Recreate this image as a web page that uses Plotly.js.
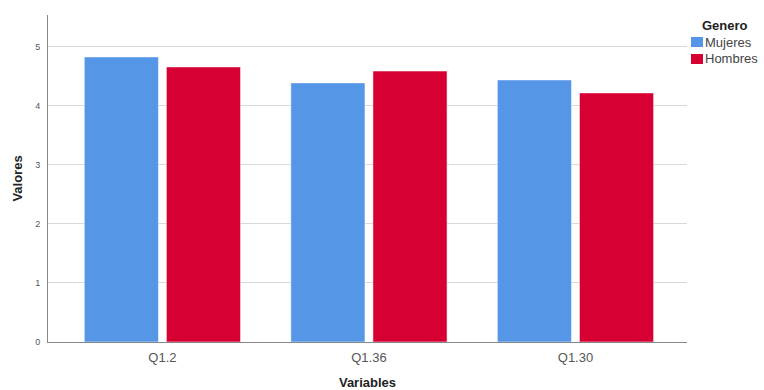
<!DOCTYPE html>
<html><head><meta charset="utf-8">
<script src="https://cdn.plot.ly/plotly-3.0.1.min.js"></script>
<style>body{margin:0;padding:0;background:#fff}</style>
</head><body>
<div id="chart" style="width:764px;height:390px"></div>
<script>
const categories = ["Q1.2", "Q1.36", "Q1.30"];
const mujeres = [4.83, 4.39, 4.44];
const hombres = [4.66, 4.59, 4.22];
const seriesNames = ["Mujeres", "Hombres"];
const seriesColors = ["#5596e6", "#d60032"];
const legendTitle = "Genero";
const yTicks = [0, 1, 2, 3, 4, 5];

const FONT = "Liberation Sans, Arial, sans-serif";
const data = [
  {type: "bar", name: seriesNames[0], x: categories, y: mujeres,
   marker: {color: seriesColors[0], line: {color: "#ffffff", width: 0.5}}},
  {type: "bar", name: seriesNames[1], x: categories, y: hombres,
   marker: {color: seriesColors[1], line: {color: "#ffffff", width: 0.5}}}
];

// manual legend (swatches + labels) placed at the right of the plot
const legX0 = 1.00626, legX1 = 1.02504;
const legRows = [[0.9327, 0.9021], [0.8807, 0.8502]];
const shapes = seriesNames.map((n, i) => ({
  type: "rect", xref: "paper", yref: "paper",
  x0: legX0, x1: legX1, y0: legRows[i][1], y1: legRows[i][0],
  fillcolor: seriesColors[i], line: {width: 0}
}));
const annotations = [
  {xref: "paper", yref: "paper", x: 1.0595, y: 0.9694, xanchor: "center", yanchor: "middle",
   text: "<b>" + legendTitle + "</b>", showarrow: false, font: {size: 13, color: "#222"}}
].concat(seriesNames.map((n, i) => ({
  xref: "paper", yref: "paper", x: 1.0250, y: (legRows[i][0] + legRows[i][1]) / 2,
  xanchor: "left", yanchor: "middle", text: n, showarrow: false,
  font: {size: 13, color: "#444"}
})));

const layout = {
  width: 764, height: 390,
  margin: {l: 48, r: 77, t: 15, b: 48},
  paper_bgcolor: "#ffffff", plot_bgcolor: "#ffffff",
  barmode: "group", bargap: 0.205, bargroupgap: 0.097,
  font: {family: FONT, color: "#444"},
  showlegend: false,
  xaxis: {
    type: "category", range: [-0.554, 2.54],
    showline: true, linecolor: "#888", linewidth: 1,
    ticks: "", tickfont: {size: 13, color: "#555"}, ticklabelstandoff: 3,
    title: {text: "<b>Variables</b>", font: {size: 13, color: "#222"}, standoff: 16}
  },
  yaxis: {
    range: [0, 5.54], tickvals: yTicks, ticktext: yTicks.map(String),
    showline: true, linecolor: "#888", linewidth: 1,
    showgrid: true, gridcolor: "#d9d9d9", gridwidth: 1,
    zeroline: false, ticks: "", tickfont: {size: 9, color: "#555"}, ticklabelstandoff: 5,
    title: {text: "<b>Valores</b>", font: {size: 13, color: "#222"}, standoff: 9}
  },
  shapes: shapes,
  annotations: annotations
};
Plotly.newPlot("chart", data, layout, {displayModeBar: false, staticPlot: true});
</script>
</body></html>
